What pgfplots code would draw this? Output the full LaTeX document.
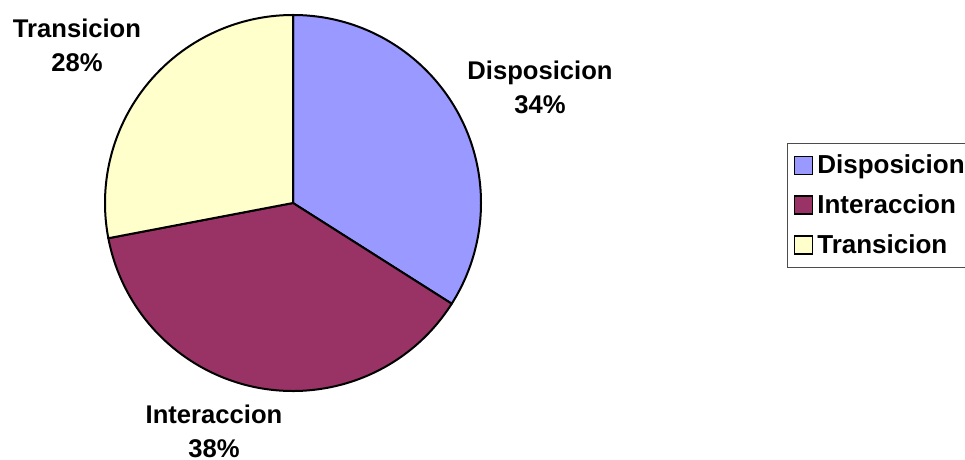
\documentclass[border=0pt]{standalone}
\usepackage{fontspec}
\setmainfont{Liberation Sans}
\usepackage{pgfplots}
\usepackage{pgfplotstable}
\pgfplotsset{compat=1.18}

\definecolor{slice0}{HTML}{9999FF}
\definecolor{slice1}{HTML}{993366}
\definecolor{slice2}{HTML}{FFFFCC}

\pgfplotstableread{
label value
Disposicion 34
Interaccion 38
Transicion 28
}\piedata

\pgfplotsset{
  pielegend/.style={legend image code/.code={
    \draw[##1,draw=black,line width=0.9pt] (0pt,-4.5pt) rectangle (9pt,4.5pt);}},
}

\begin{document}
\begin{tikzpicture}
\useasboundingbox (0,0) rectangle (482.5pt,230pt);
\clip (0,0) rectangle (482.5pt,230pt);

% slice angles, clockwise from 12 o'clock
\def\cum{0}
\pgfplotsforeachungrouped \i in {0,1,2}{%
  \pgfplotstablegetelem{\i}{value}\of\piedata
  \let\v\pgfplotsretval
  \pgfmathsetmacro\a{90-3.6*\cum}
  \pgfmathsetmacro\b{\a-3.6*\v}
  \expandafter\xdef\csname sa\i\endcsname{\a}
  \expandafter\xdef\csname ea\i\endcsname{\b}
  \pgfmathsetmacro\cum{\cum+\v}
}

\begin{axis}[
  at={(0,0)}, anchor=south west,
  width=482.5pt, height=230pt, scale only axis,
  xmin=0, xmax=965, ymin=0, ymax=460,
  axis lines=none, ticks=none, clip=false,
  legend cell align=left,
  legend style={at={(axis cs:787,317)}, anchor=north west,
    draw=black!70, line width=0.5pt, inner xsep=3pt, inner ysep=3.5pt,
    row sep=5pt,
    font=\bfseries\fontsize{13}{15}\selectfont,
    /tikz/every even column/.append style={column sep=1.5pt}},
]
\pgfplotsinvokeforeach{0,1,2}{
  \filldraw[fill=slice#1, draw=black, line width=1pt, line join=round]
    (axis cs:293,257) -- ++(\csname sa#1\endcsname:94pt)
    arc[start angle=\csname sa#1\endcsname, end angle=\csname ea#1\endcsname, radius=94pt] -- cycle;
}
\addlegendimage{pielegend, fill=slice0}
\addlegendentry{Disposicion}
\addlegendimage{pielegend, fill=slice1}
\addlegendentry{Interaccion}
\addlegendimage{pielegend, fill=slice2}
\addlegendentry{Transicion}

\begin{scope}[every node/.style={align=center, font=\bfseries\fontsize{12.8}{17}\selectfont}]
\node at (axis cs:540,373) {Disposicion\\34\%};
\node at (axis cs:214,29) {Interaccion\\38\%};
\node at (axis cs:77,415) {Transicion\\28\%};
\end{scope}
\end{axis}
\end{tikzpicture}
\end{document}
